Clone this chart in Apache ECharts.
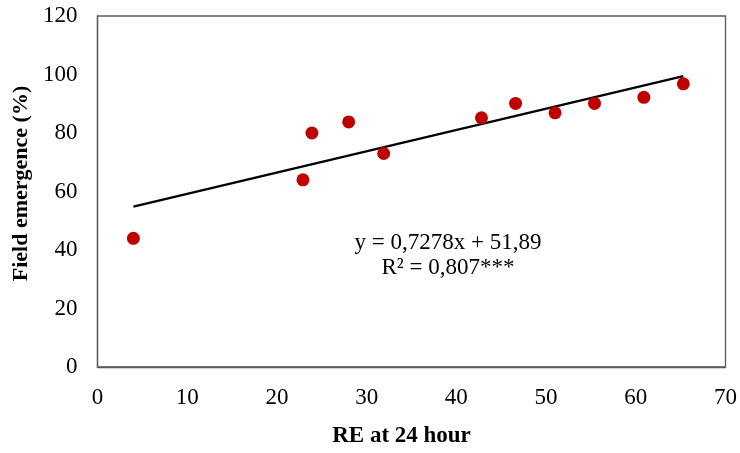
<!DOCTYPE html>
<html>
<head>
<meta charset="utf-8">
<script src="https://cdn.jsdelivr.net/npm/echarts@6/dist/echarts.min.js"></script>
<style>html,body{margin:0;padding:0;background:#fff}#c{width:740px;height:453px}</style>
</head>
<body>
<div id="c"></div>
<script>
var reValues = [4.0, 22.9, 23.9, 28.0, 31.9, 42.8, 46.6, 51.0, 55.4, 60.9, 65.3];
var emergenceValues = [44.0, 64.0, 80.0, 83.8, 73.0, 85.2, 90.1, 86.9, 90.1, 92.2, 96.8];
var slope = 0.7278;
var intercept = 51.89;
var equationText = 'y = 0,7278x + 51,89';
var r2Text = 'R² = 0,807***';
var xTitle = 'RE at 24 hour';
var yTitle = 'Field emergence (%)';

var pts = reValues.map(function (x, i) { return [x, emergenceValues[i]]; });
var xMin = Math.min.apply(null, reValues), xMax = Math.max.apply(null, reValues);
var trend = [[xMin, slope * xMin + intercept], [xMax, slope * xMax + intercept]];

var font = 'Liberation Serif, Times New Roman, serif';
var chart = echarts.init(document.getElementById('c'), null, {renderer: 'canvas'});
chart.setOption({
  animation: false,
  backgroundColor: '#fff',
  grid: {left: 97.5, right: 13, top: 16, bottom: 85, show: true, borderColor: '#595959', borderWidth: 1.3, containLabel: false},
  xAxis: {
    type: 'value', min: 0, max: 70, interval: 10,
    name: xTitle, nameLocation: 'middle', nameGap: 58,
    nameTextStyle: {fontFamily: font, fontSize: 23, fontWeight: 'bold', color: '#000', padding: [0, 20, 0, 0]},
    axisLine: {show: true, lineStyle: {color: '#595959', width: 1.3}},
    axisTick: {show: false},
    splitLine: {show: false},
    axisLabel: {fontFamily: font, fontSize: 23, color: '#000', margin: 19}
  },
  yAxis: {
    type: 'value', min: 0, max: 120, interval: 20,
    name: yTitle, nameLocation: 'middle', nameGap: 63,
    nameTextStyle: {fontFamily: font, fontSize: 22, fontWeight: 'bold', color: '#000', padding: [0, 0, 0, 16]},
    axisLine: {show: true, lineStyle: {color: '#595959', width: 1.3}},
    axisTick: {show: false},
    splitLine: {show: false},
    axisLabel: {fontFamily: font, fontSize: 23, color: '#000', margin: 20}
  },
  series: [
    {
      type: 'line', data: trend, symbol: 'none', silent: true,
      lineStyle: {color: '#000', width: 2.3}, z: 3
    },
    {
      type: 'scatter', data: pts, symbol: 'circle', symbolSize: 13,
      itemStyle: {color: '#C00000', opacity: 1}, z: 4
    }
  ],
  graphic: [
    {type: 'text', x: 448, y: 230, style: {text: equationText + '\n' + r2Text, font: '23px ' + font, fill: '#000', align: 'center', verticalAlign: 'top', lineHeight: 25}, z: 10}
  ]
});
</script>
</body>
</html>
